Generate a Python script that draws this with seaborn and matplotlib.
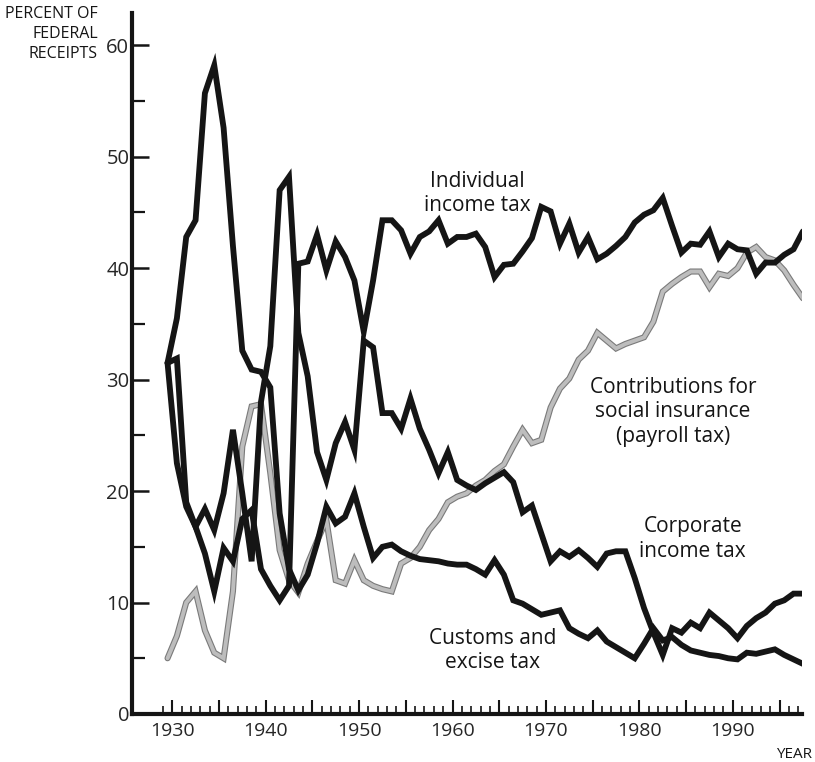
"""Federal receipts by source, percent of total, 1929-1997."""
import matplotlib
matplotlib.use("Agg")
import pandas as pd
import matplotlib.pyplot as plt
import matplotlib.patheffects as pe
from matplotlib.ticker import FixedLocator, MultipleLocator, FuncFormatter
import seaborn as sns

years = list(range(1929, 1998))

individual = [
    31.5,
    31.9, 19.0, 16.8, 14.4, 11.0, 14.9, 13.7, 17.5, 18.3, 13.0,
    11.5, 10.2, 11.5, 40.4, 40.6, 43.0, 39.8, 42.4, 41.0, 38.9,
    34.3, 38.9, 44.3, 44.3, 43.4, 41.3, 42.8, 43.3, 44.3, 42.2,
    42.8, 42.8, 43.1, 41.9, 39.2, 40.3, 40.4, 41.5, 42.7, 45.5,
    45.1, 42.2, 44.0, 41.4, 42.8, 40.8, 41.3, 42.0, 42.8, 44.1,
    44.8, 45.2, 46.3, 43.8, 41.4, 42.2, 42.1, 43.3, 41.0, 42.2,
    41.7, 41.6, 39.5, 40.5, 40.5, 41.2, 41.7, 43.3,
]
corporate = [
    31.5,
    22.5, 18.6, 16.8, 18.4, 16.5, 19.8, 25.5, 19.8, 13.7, 28.0,
    33.0, 47.0, 48.2, 34.2, 30.3, 23.5, 21.0, 24.3, 26.2, 23.7,
    33.5, 32.9, 27.0, 27.0, 25.6, 28.3, 25.6, 23.7, 21.6, 23.5,
    21.0, 20.5, 20.1, 20.7, 21.2, 21.7, 20.8, 18.1, 18.7, 16.2,
    13.7, 14.6, 14.1, 14.7, 14.0, 13.2, 14.4, 14.6, 14.6, 12.2,
    9.5, 7.3, 5.3, 7.7, 7.3, 8.2, 7.7, 9.1, 8.4, 7.7,
    6.8, 7.9, 8.6, 9.1, 9.9, 10.2, 10.8, 10.8,
]
payroll = [
    5.0,
    7.0, 10.0, 11.0, 7.5, 5.5, 5.0, 11.0, 24.0, 27.6, 27.8,
    21.6, 14.7, 12.0, 10.9, 13.5, 15.5, 17.4, 12.0, 11.7, 13.8,
    12.0, 11.5, 11.2, 11.0, 13.5, 14.0, 15.0, 16.5, 17.5, 19.0,
    19.5, 19.8, 20.5, 21.0, 21.8, 22.4, 24.0, 25.5, 24.3, 24.6,
    27.5, 29.2, 30.1, 31.8, 32.6, 34.2, 33.5, 32.8, 33.2, 33.5,
    33.8, 35.2, 37.9, 38.6, 39.2, 39.7, 39.7, 38.3, 39.5, 39.3,
    40.0, 41.4, 41.9, 41.0, 40.7, 39.8, 38.5, 37.3,
]
customs = [
    31.5,
    35.5, 42.8, 44.3, 55.7, 58.2, 52.6, 42.0, 32.6, 30.9, 30.7,
    29.3, 18.0, 13.0, 11.1, 12.5, 15.3, 18.6, 17.1, 17.7, 19.8,
    16.8, 14.0, 15.0, 15.2, 14.6, 14.2, 13.9, 13.8, 13.7, 13.5,
    13.4, 13.4, 13.0, 12.5, 13.8, 12.5, 10.2, 9.9, 9.4, 8.9,
    9.1, 9.3, 7.7, 7.2, 6.8, 7.5, 6.5, 6.0, 5.5, 5.0,
    6.3, 7.7, 6.6, 6.9, 6.2, 5.7, 5.5, 5.3, 5.2, 5.0,
    4.9, 5.5, 5.4, 5.6, 5.8, 5.3, 4.9, 4.5,
]

sns.set_theme(style="ticks")
plt.rcParams["font.family"] = ["Open Sans", "DejaVu Sans"]

df = pd.DataFrame(
    {
        "year": years,
        "individual": individual,
        "corporate": corporate,
        "payroll": payroll,
        "customs": customs,
    }
)
# fiscal years are drawn at mid-year
df["x"] = df["year"] + 0.5

fig = plt.figure(figsize=(8.15, 7.62), dpi=100, facecolor="white")
ax = fig.add_axes([0.162, 0.063, 0.822, 0.92])

# grey line with a darker rim, like the printed screen tint
sns.lineplot(data=df, x="x", y="payroll", color="#bdbdbd", linewidth=2.8,
             solid_joinstyle="miter", ax=ax,
             path_effects=[pe.Stroke(linewidth=4.4, foreground="#7a7a7a"),
                           pe.Normal()])
for col in ["customs", "corporate", "individual"]:
    sns.lineplot(data=df, x="x", y=col, color="#151515", linewidth=4.2,
                 solid_joinstyle="miter", ax=ax)

ax.set_xlim(1925.7, 1997.4)
ax.set_ylim(0, 62.9)
ax.set_xlabel("")
ax.set_ylabel("")

ax.xaxis.set_major_locator(FixedLocator(list(range(1930, 1996, 5))))
ax.xaxis.set_minor_locator(FixedLocator(years))
ax.xaxis.set_major_formatter(
    FuncFormatter(lambda v, pos: f"{int(v)}" if int(v) % 10 == 0 else "")
)
ax.yaxis.set_major_locator(MultipleLocator(10))
ax.yaxis.set_minor_locator(MultipleLocator(5))

ax.tick_params(axis="x", which="major", direction="in", length=10, width=1.5,
               labelsize=14, pad=6, color="#151515")
ax.tick_params(axis="x", which="minor", direction="in", length=6, width=1.2,
               color="#151515")
ax.tick_params(axis="y", which="major", direction="in", length=12, width=1.8,
               labelsize=14.5, pad=2, color="#151515")
ax.tick_params(axis="y", which="minor", direction="in", length=9, width=1.6,
               color="#151515")

sns.despine(ax=ax)
for side in ["left", "bottom"]:
    ax.spines[side].set_linewidth(3)
    ax.spines[side].set_color("#151515")

label_style = dict(ha="center", va="center", fontsize=15, linespacing=1.2,
                   color="#151515")
ax.text(1962.7, 46.7, "Individual\nincome tax", **label_style)
ax.text(1983.6, 27.1, "Contributions for\nsocial insurance\n(payroll tax)",
        **label_style)
ax.text(1985.7, 15.7, "Corporate\nincome tax", **label_style)
ax.text(1964.3, 5.7, "Customs and\nexcise tax", **label_style)

fig.text(98 / 815, 1 - 6 / 762, "PERCENT OF\nFEDERAL\nRECEIPTS",
         ha="right", va="top", fontsize=11.5, linespacing=1.35,
         color="#151515")
fig.text(812 / 815, 1 - 755 / 762, "YEAR", ha="right", va="center",
         fontsize=11, color="#151515")

fig.savefig("out.png", dpi=100, facecolor="white")
